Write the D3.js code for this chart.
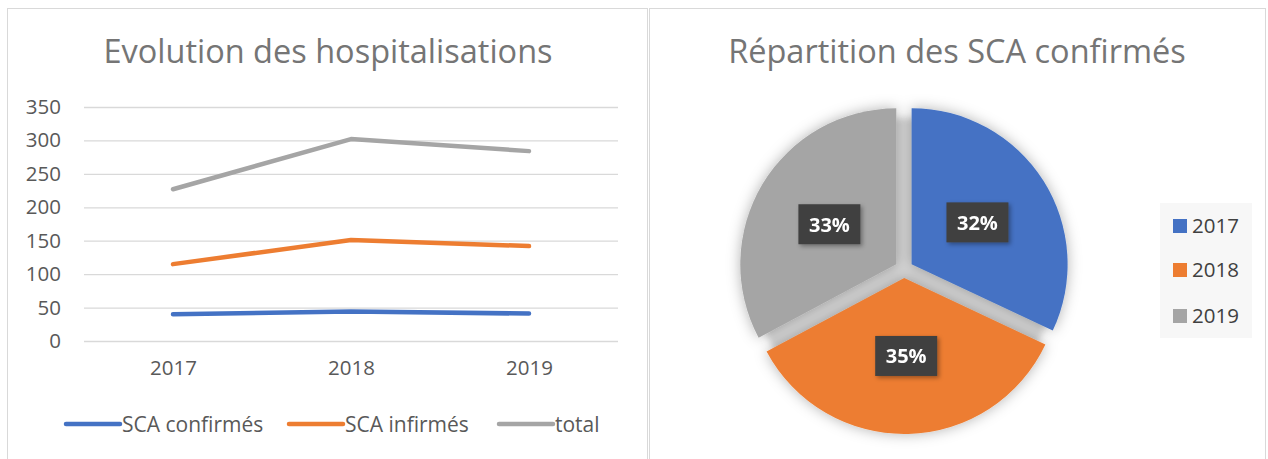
<!DOCTYPE html>
<html><head><meta charset="utf-8">
<script src="https://cdn.jsdelivr.net/npm/d3@7"></script>
<style>body{margin:0;background:#fff}svg{display:block}text{font-family:"Open Sans",Lato,sans-serif}</style>
</head><body>
<svg id="c" width="1268" height="459"></svg>
<script>
const years = ["2017","2018","2019"];
const confirmes = [40, 44, 41];
const infirmes = [115, 151, 142];
const total = [227, 302, 284];
const seriesNames = ["SCA confirmés","SCA infirmés","total"];
const yTicks = [0,50,100,150,200,250,300,350];
const pieLabels = ["32%","35%","33%"];
const colors = ["#4472C4","#ED7D31","#A5A5A5"];

const FONT = '"Open Sans",Lato,sans-serif';
const svg = d3.select("#c");
const defs = svg.append("defs");
const f1 = defs.append("filter").attr("id","pshadow").attr("x","-30%").attr("y","-30%").attr("width","160%").attr("height","160%");
f1.append("feDropShadow").attr("dx",0).attr("dy",0).attr("stdDeviation",7).attr("flood-color","#000").attr("flood-opacity",0.3);
const f2 = defs.append("filter").attr("id","lshadow").attr("x","-30%").attr("y","-30%").attr("width","160%").attr("height","160%");
f2.append("feDropShadow").attr("dx",2).attr("dy",2).attr("stdDeviation",2).attr("flood-color","#000").attr("flood-opacity",0.35);
const f3 = defs.append("filter").attr("id","bblur").attr("x","-30%").attr("y","-30%").attr("width","160%").attr("height","160%");
f3.append("feGaussianBlur").attr("stdDeviation",3);

// panels
svg.append("rect").attr("x",7.5).attr("y",8.5).attr("width",640).attr("height",460).attr("fill","#fff").attr("stroke","#d9d9d9");
svg.append("rect").attr("x",649.5).attr("y",8.5).attr("width",616).attr("height",460).attr("fill","#fff").attr("stroke","#d9d9d9");

// ---- line chart
const x = d3.scalePoint().domain(years).range([84,618]).padding(0.5);
const y = d3.scaleLinear().domain([0,350]).range([341,107]);

svg.append("text").attr("x",328).attr("y",63).attr("text-anchor","middle").attr("font-size",32.5).attr("fill","#757575").text("Evolution des hospitalisations");

const gy = svg.append("g").attr("transform","translate(84,0)").call(d3.axisLeft(y).tickValues(yTicks).tickSize(-534).tickPadding(23));
gy.select(".domain").remove();
gy.selectAll(".tick line").attr("stroke","#d9d9d9").attr("stroke-width",1.3);
gy.selectAll(".tick text").attr("fill","#595959").attr("font-size",20.5).attr("font-family",FONT);

const gx = svg.append("g").attr("transform","translate(0,341)").call(d3.axisBottom(x).tickSize(0).tickPadding(19));
gx.select(".domain").remove();
gx.selectAll(".tick text").attr("fill","#595959").attr("font-size",20.5).attr("font-family",FONT);

const allSeries = [confirmes, infirmes, total];
const line = d3.line().x((d,i)=>x(years[i])).y(d=>y(d));
allSeries.forEach((s,k)=>{
  svg.append("path").datum(s).attr("d",line).attr("fill","none").attr("stroke",colors[k]).attr("stroke-width",4.5).attr("stroke-linecap","round").attr("stroke-linejoin","round");
});

const legX = [66, 289, 499];
seriesNames.forEach((n,k)=>{
  svg.append("line").attr("x1",legX[k]).attr("x2",legX[k]+54).attr("y1",424).attr("y2",424).attr("stroke",colors[k]).attr("stroke-width",4.5).attr("stroke-linecap","round");
  svg.append("text").attr("x",legX[k]+56).attr("y",431.5).attr("font-size",21).attr("fill","#595959").text(n);
});

// ---- pie
svg.append("text").attr("x",957).attr("y",63).attr("text-anchor","middle").attr("font-size",32.5).attr("fill","#757575").text("Répartition des SCA confirmés");

const cx = 904, cy = 269, r = 156, off = 9;
const pie = d3.pie().sort(null).value(d=>d)(confirmes);
const arc = d3.arc().innerRadius(0).outerRadius(r);
svg.append("circle").attr("cx",cx).attr("cy",cy+1).attr("r",r-4).attr("fill","#d6d6d6").attr("filter","url(#bblur)");
const gp = svg.append("g").attr("transform",`translate(${cx},${cy})`).attr("filter","url(#pshadow)");
pie.forEach((p,i)=>{
  const a = (p.startAngle+p.endAngle)/2;
  gp.append("path").attr("d",arc(p)).attr("fill",colors[i]).attr("transform",`translate(${Math.sin(a)*off},${-Math.cos(a)*off})`);
});
const gl = svg.append("g").attr("transform",`translate(${cx},${cy})`);
pie.forEach((p,i)=>{
  const a = (p.startAngle+p.endAngle)/2;
  const d = 78 + off;
  const lx = Math.sin(a)*d, ly = -Math.cos(a)*d;
  gl.append("rect").attr("x",lx-31).attr("y",ly-20).attr("width",62).attr("height",40).attr("fill","#404040").attr("filter","url(#lshadow)");
  gl.append("text").attr("x",lx).attr("y",ly+7.5).attr("text-anchor","middle").attr("font-size",20).attr("font-weight","bold").attr("fill","#fff").text(pieLabels[i]);
});

// pie legend
svg.append("rect").attr("x",1160).attr("y",203).attr("width",92).attr("height",135).attr("fill","#f7f7f7");
const legY = [226, 270, 316];
years.forEach((yr,i)=>{
  svg.append("rect").attr("x",1173).attr("y",legY[i]-7).attr("width",14).attr("height",14).attr("fill",colors[i]);
  svg.append("text").attr("x",1192).attr("y",legY[i]+7).attr("font-size",20.5).attr("fill","#404040").text(yr);
});
</script>
</body></html>
